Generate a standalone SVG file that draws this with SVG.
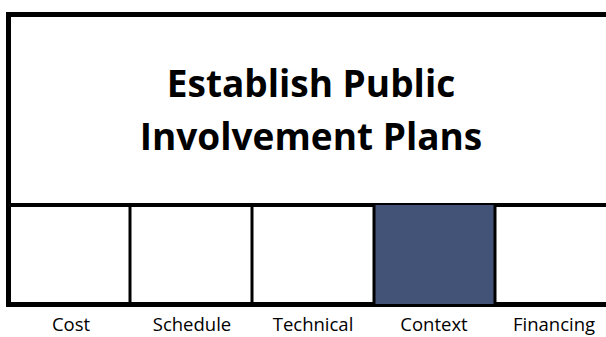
<svg xmlns="http://www.w3.org/2000/svg" width="606" height="337" viewBox="0 0 606 337">
<style>
.ln{stroke:#000;fill:none}
.title{font-family:"Open Sans","Liberation Sans",sans-serif;font-weight:700;font-size:37px;fill:#000;text-anchor:middle}
.lbl{font-family:"Open Sans","Liberation Sans",sans-serif;font-size:18.5px;fill:#000;text-anchor:middle}
</style>
<rect width="606" height="337" fill="#fff"/>
<g id="title-box">
<path class="ln" stroke-width="5" d="M606,14.5 H8.5 V304.5 H606"/>
<line class="ln" stroke-width="4" x1="8.5" y1="205" x2="606" y2="205"/>
<text class="title" x="311" y="97">Establish Public</text>
<text class="title" x="311" y="150">Involvement Plans</text>
</g>
<g id="cost"><text class="lbl" x="71" y="331">Cost</text></g>
<g id="schedule"><text class="lbl" x="192" y="331">Schedule</text></g>
<g id="technical"><text class="lbl" x="313" y="331">Technical</text></g>
<g id="context"><rect x="374" y="205" width="121" height="99" fill="#435277"/><text class="lbl" x="434" y="331">Context</text></g>
<g id="financing"><text class="lbl" x="554" y="331">Financing</text></g>
<g id="connectors">
<line class="ln" stroke-width="3" x1="130" y1="205" x2="130" y2="304"/>
<line class="ln" stroke-width="3" x1="252" y1="205" x2="252" y2="304"/>
<line class="ln" stroke-width="3" x1="374" y1="205" x2="374" y2="304"/>
<line class="ln" stroke-width="3" x1="495" y1="205" x2="495" y2="304"/>
</g>
</svg>
